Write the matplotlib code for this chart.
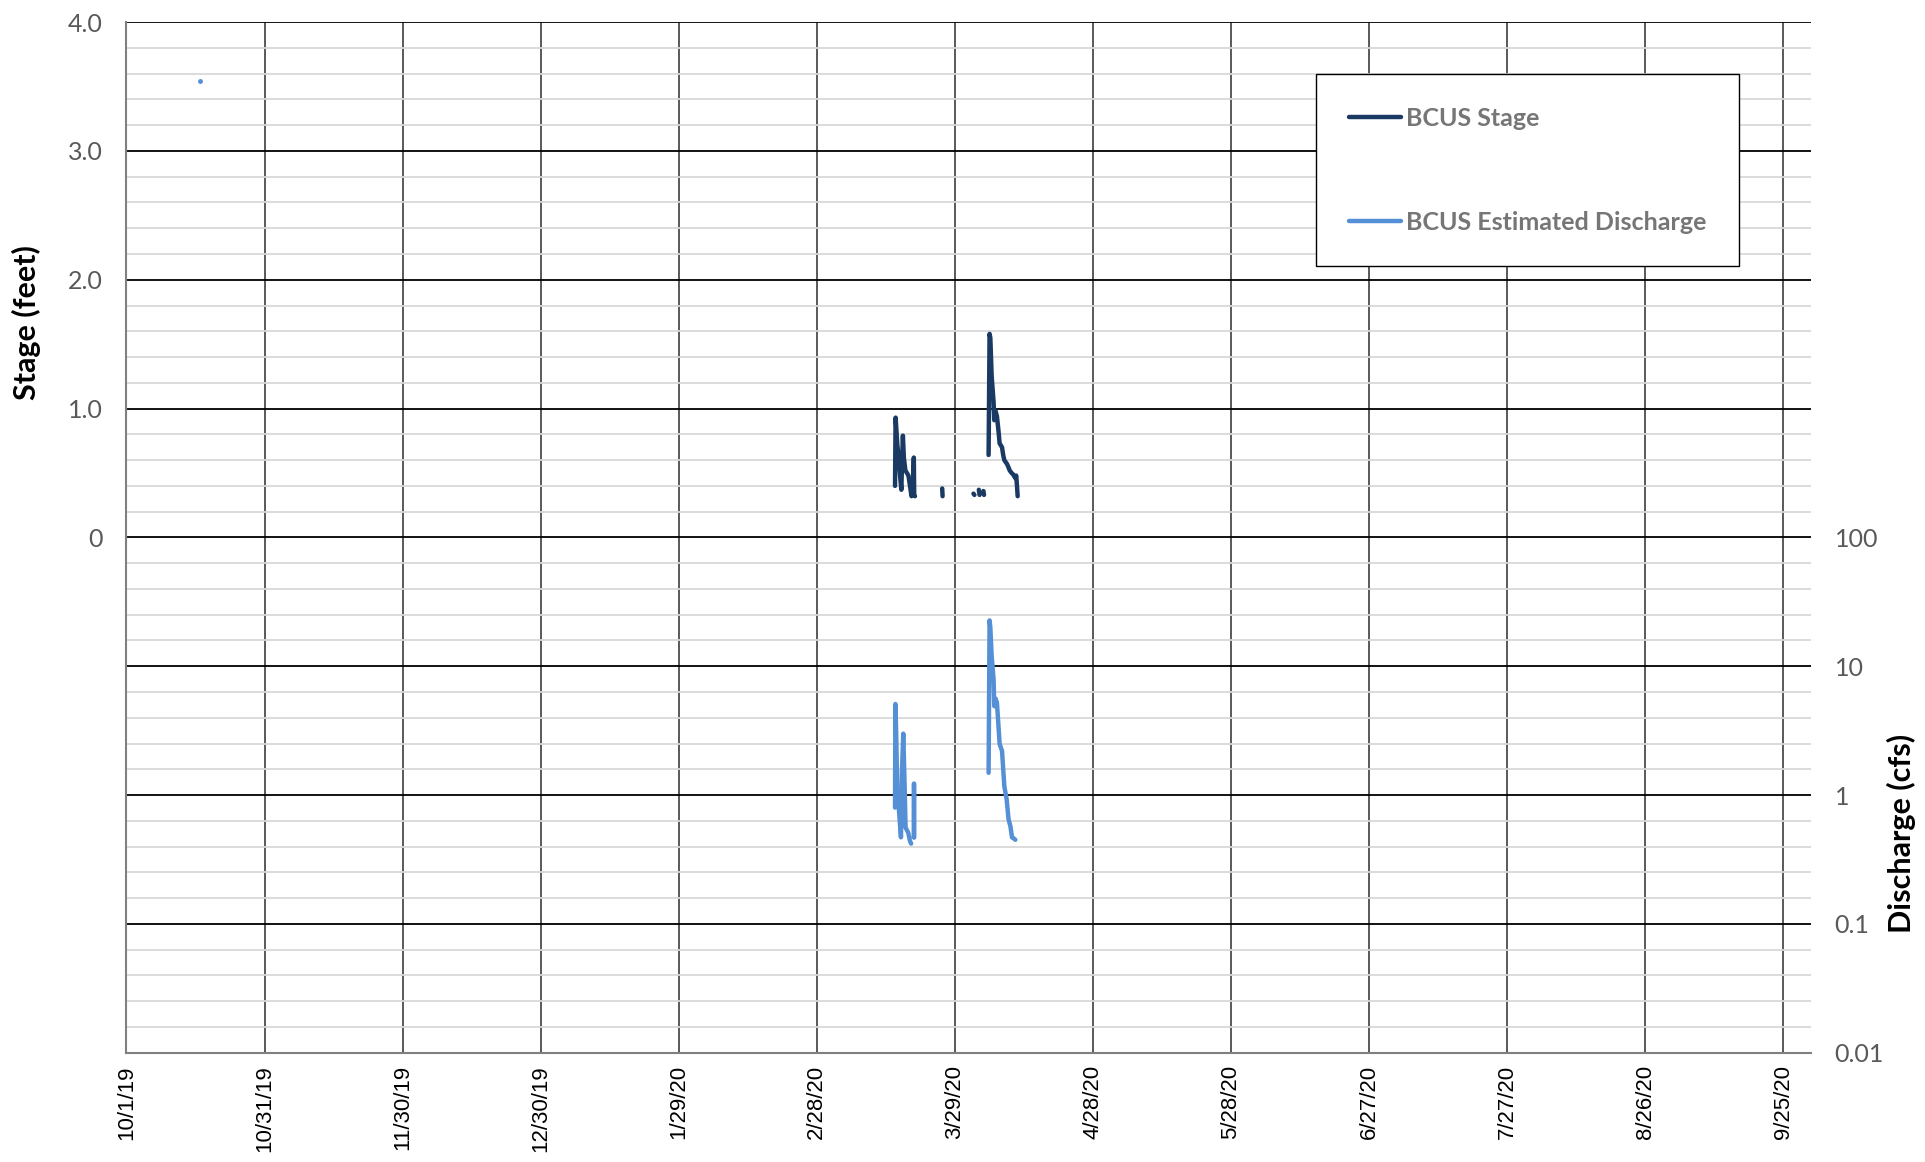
import numpy as np
import pandas as pd
import matplotlib
matplotlib.use("Agg")
import matplotlib.pyplot as plt
from matplotlib.ticker import FixedLocator, FixedFormatter, MultipleLocator, NullLocator

# stage readings (feet), NaN marks a gap in the record
stage_times = ["2020-03-16 00:00", "2020-03-16 03:00", "2020-03-16 12:00", "2020-03-16 20:00",
               "2020-03-17 04:00", "2020-03-17 09:00", "2020-03-17 12:00", "2020-03-17 17:00",
               "2020-03-17 22:00", "2020-03-18 06:00", "2020-03-18 14:00", "2020-03-18 22:00",
               "2020-03-19 06:00", "2020-03-19 14:00", "2020-03-19 20:00", "2020-03-20 02:00",
               "2020-03-20 04:00", "2020-03-20 08:00", "2020-03-20 09:00",
               "2020-03-26 06:00", "2020-03-26 08:00", "2020-03-26 09:00",
               "2020-04-02 01:00", "2020-04-02 06:00", "2020-04-02 07:00",
               "2020-04-03 05:00", "2020-04-03 09:00", "2020-04-03 10:00",
               "2020-04-04 05:00", "2020-04-04 08:00", "2020-04-04 09:00",
               "2020-04-05 08:00", "2020-04-05 13:00", "2020-04-05 17:00", "2020-04-06 00:00",
               "2020-04-06 10:00", "2020-04-06 13:30", "2020-04-06 20:30", "2020-04-07 03:30",
               "2020-04-07 12:00", "2020-04-07 17:30", "2020-04-08 06:00", "2020-04-08 12:00",
               "2020-04-08 18:00", "2020-04-09 08:00", "2020-04-09 14:00", "2020-04-09 22:00",
               "2020-04-10 08:00", "2020-04-10 15:30", "2020-04-11 03:30", "2020-04-11 08:00",
               "2020-04-11 12:00", "2020-04-11 15:30"]
stage_ft = [0.40, 0.93, 0.72, 0.60,
            0.45, 0.37, 0.55, 0.79,
            0.62, 0.52, 0.50, 0.48,
            0.40, 0.32, 0.34, 0.62,
            0.33, 0.32, np.nan,
            0.38, 0.32, np.nan,
            0.34, 0.33, np.nan,
            0.37, 0.33, np.nan,
            0.36, 0.33, np.nan,
            0.64, 1.58, 1.55, 1.25,
            1.05, 0.91, 0.98, 0.94,
            0.82, 0.73, 0.70, 0.64,
            0.60, 0.57, 0.55, 0.52,
            0.50, 0.49, 0.46, 0.48,
            0.40, 0.32]

# estimated discharge (cfs)
q_times = ["2020-03-16 00:00", "2020-03-16 02:00", "2020-03-16 06:00", "2020-03-16 12:00",
           "2020-03-16 20:00", "2020-03-17 07:00", "2020-03-17 12:00", "2020-03-17 19:00",
           "2020-03-18 02:00", "2020-03-18 07:00", "2020-03-18 21:00", "2020-03-19 06:00",
           "2020-03-19 12:00", "2020-03-19 13:00",
           "2020-03-20 02:00", "2020-03-20 03:00", "2020-03-20 04:00", "2020-03-20 05:00",
           "2020-04-05 08:00", "2020-04-05 13:00", "2020-04-05 17:00", "2020-04-06 00:00",
           "2020-04-06 10:00", "2020-04-06 13:30", "2020-04-06 20:30", "2020-04-07 03:30",
           "2020-04-07 17:30", "2020-04-08 06:00", "2020-04-08 18:00", "2020-04-09 06:00",
           "2020-04-09 16:00", "2020-04-10 02:00", "2020-04-10 10:00", "2020-04-10 20:00",
           "2020-04-11 03:30"]
q_cfs = [0.80, 5.1, 3.0, 1.05,
         0.78, 0.47, 1.5, 3.0,
         1.2, 0.56, 0.51, 0.44,
         0.42, np.nan,
         0.47, 1.23, 0.47, np.nan,
         1.49, 22.7, 20.0, 12.0,
         7.9, 4.9, 5.6, 5.2,
         2.5, 2.2, 1.17, 0.93,
         0.65, 0.57, 0.47, 0.46,
         0.45]

# lone early discharge reading
q_lone_time = ["2019-10-17 00:00"]
q_lone_cfs = [3.5e5]

tick_dates = pd.date_range("2019-10-01", periods=13, freq="30D")
stage_ticks = [-4, -3, -2, -1, 0, 1, 2, 3, 4]
stage_labels = ["", "", "", "", "0", "1.0", "2.0", "3.0", "4.0"]
q_ticks = [0.01, 0.1, 1, 10, 100]
q_labels = ["0.01", "0.1", "1", "10", "100"]

stage_color = "#1B3A63"
q_color = "#5590D6"
label_grey = "#595959"

fig = plt.figure(figsize=(19.25, 11.62), dpi=100)
ax = fig.add_axes([0.0657, 0.094, 0.875, 0.887])
ax2 = ax.twinx()

ax.plot(pd.to_datetime(stage_times), stage_ft, color=stage_color, lw=3.2,
        solid_capstyle="round", label="BCUS Stage", zorder=4)
ax2.plot(pd.to_datetime(q_times), q_cfs, color=q_color, lw=3.2,
         solid_capstyle="round", label="BCUS Estimated Discharge", zorder=4)
ax2.plot(pd.to_datetime(q_lone_time), q_lone_cfs, "o", color=q_color, ms=2.5)

ax.set_xlim(pd.Timestamp("2019-10-01"), pd.Timestamp("2020-10-01"))
ax.set_ylim(-4, 4)
ax.yaxis.set_major_locator(FixedLocator(stage_ticks))
ax.yaxis.set_major_formatter(FixedFormatter(stage_labels))
ax.yaxis.set_minor_locator(MultipleLocator(0.2))
ax.set_xticks(tick_dates)
ax.set_xticklabels([f"{d.month}/{d.day}/{d.strftime('%y')}" for d in tick_dates],
                   rotation=90, fontsize=16, family="Liberation Sans")

ax.grid(which="minor", axis="y", color="#d9d9d9", lw=1.3)
ax.grid(which="major", axis="y", color="black", lw=1.3)
ax.grid(which="major", axis="x", color="#595959", lw=1.4)
ax.set_axisbelow(True)

ax.tick_params(axis="x", length=0, pad=9)
ax.tick_params(axis="y", which="both", length=0, pad=17, labelsize=18, labelcolor=label_grey)
for lbl in ax.get_yticklabels():
    lbl.set_family("Lato")

ax2.set_yscale("log")
ax2.set_ylim(0.01, 1e6)
ax2.yaxis.set_major_locator(FixedLocator(q_ticks))
ax2.yaxis.set_major_formatter(FixedFormatter(q_labels))
ax2.yaxis.set_minor_locator(NullLocator())
ax2.tick_params(axis="y", which="both", length=0, pad=17, labelsize=18, labelcolor=label_grey)
for lbl in ax2.get_yticklabels():
    lbl.set_family("Lato")

for a in (ax, ax2):
    a.spines["top"].set_visible(False)
    a.spines["right"].set_visible(False)
    a.spines["left"].set_color("#808080")
    a.spines["bottom"].set_color("#808080")
    a.spines["left"].set_linewidth(1.5)
    a.spines["bottom"].set_linewidth(1.5)
ax2.spines["left"].set_visible(False)
ax2.spines["bottom"].set_visible(False)

fig.text(0.014, 0.722, "Stage (feet)", rotation=90, ha="center", va="center",
         fontsize=22, fontweight="bold", family="Lato")
fig.text(0.988, 0.283, "Discharge (cfs)", rotation=90, ha="center", va="center",
         fontsize=22, fontweight="bold", family="Lato")

h1, l1 = ax.get_legend_handles_labels()
h2, l2 = ax2.get_legend_handles_labels()
leg = ax2.legend(h1 + h2[:1], l1 + l2[:1], loc="upper left",
                 bbox_to_anchor=(1316 / 1925, 1 - 74 / 1162), bbox_transform=fig.transFigure,
                 borderaxespad=0, frameon=True, fancybox=False, edgecolor="black", framealpha=1,
                 borderpad=1.3, labelspacing=3.25, handlelength=2.1, handletextpad=0.2,
                 prop={"family": "Lato", "weight": "bold", "size": 18})
leg.get_frame().set_linewidth(1.0)
for t in leg.get_texts():
    t.set_color("#767676")
leg.set_zorder(10)

fig.savefig("out.png", dpi=100)
